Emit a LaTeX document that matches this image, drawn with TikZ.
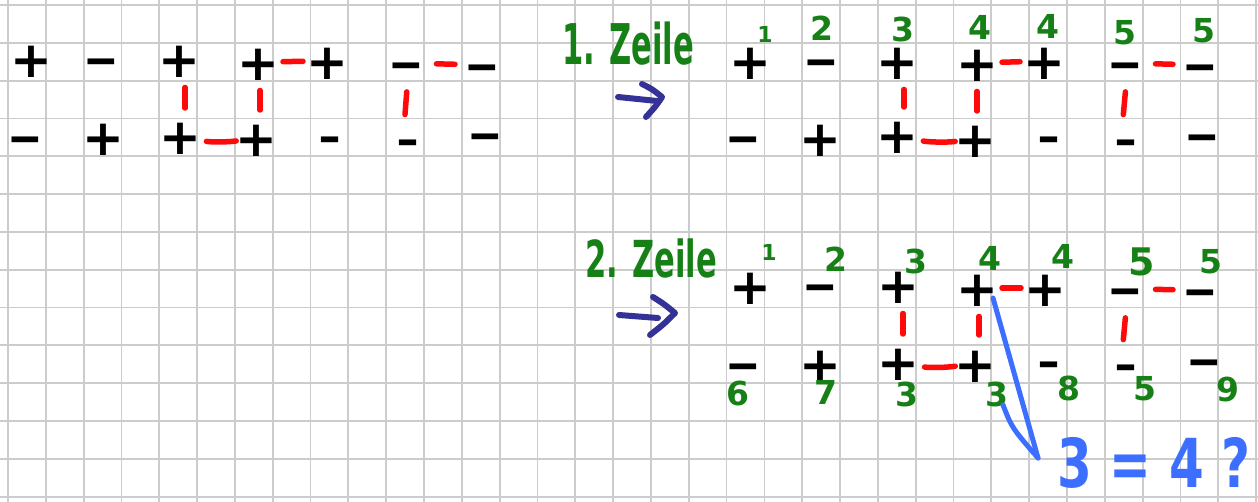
\documentclass[tikz,border=0pt]{standalone}
\usepackage{fontspec}
\usepackage{graphicx}
\newfontfamily\handfont{DejaVu Sans}
\definecolor{gridgray}{RGB}{204,204,204}
\definecolor{hred}{RGB}{255,10,10}
\definecolor{hgreen}{RGB}{22,128,22}
\definecolor{hdarkblue}{RGB}{52,50,150}
\definecolor{hblue}{RGB}{60,110,255}
\newcommand\MinusL{\scalebox{0.85}[1]{−}}
\newcommand\MinusS{\scalebox{0.55}[1]{−}}
\begin{document}
\begin{tikzpicture}[x=1pt,y=-1pt,
  gridline/.style={draw=gridgray, line width=1.8pt},
  sign/.style={font=\handfont\bfseries\fontsize{50}{50}\selectfont, inner xsep=0pt, inner ysep=-3pt, text height=38pt, text depth=0pt},
  msign/.style={sign, inner ysep=-14pt},
  num/.style={font=\handfont\bfseries\fontsize{33}{33}\selectfont, text=hgreen, inner sep=0pt},
  bignum/.style={font=\handfont\bfseries\fontsize{38}{38}\selectfont, text=hgreen, inner sep=0pt},
  smallnum/.style={font=\handfont\bfseries\fontsize{22}{22}\selectfont, text=hgreen, inner sep=0pt},
  label/.style={font=\handfont\bfseries\fontsize{34}{34}\selectfont, text=hgreen, inner sep=0pt},
  link/.style={draw=hred, line width=5.5pt, line cap=round},
  pplink/.style={link, shorten <=25pt, shorten >=24pt},
  mmlink/.style={link, shorten <=30.5pt, shorten >=27pt},
  vlink/.style={link, shorten <=28.5pt, shorten >=28pt},
  vmlink/.style={link, shorten <=29pt, shorten >=25.5pt},
  tlink/.style={link, shorten <=27pt, shorten >=20pt},
  darkpen/.style={draw=hdarkblue, line width=6pt, line cap=round, line join=round},
  bluepen/.style={draw=hblue, line width=5pt, line cap=round, line join=round}
]
\useasboundingbox (0,0) rectangle (1258,502);
\fill[white] (0,0) rectangle (1258,502);
\foreach \i in {0,...,33} { \draw[gridline] ({8+37.82*\i},0) -- ({8+37.82*\i},502); }
\foreach \j in {0,...,13} { \draw[gridline] (0,{5+37.82*\j}) -- (1258,{5+37.82*\j}); }

% ---------- left block ----------
\node[sign] (L1) at (31,59) {+};
\node[msign] (L2) at (101,59) {\MinusL};
\node[sign] (L3) at (179,59) {+};
\node[sign] (L4) at (258,62) {+};
\node[sign] (L5) at (327,61) {+};
\node[msign] (L6) at (406,63) {\MinusL};
\node[msign] (L7) at (482,65) {\MinusL};
\node[msign] (L8) at (25,137) {\MinusL};
\node[sign] (L9) at (103,137) {+};
\node[sign] (L10) at (180,136) {+};
\node[sign] (L11) at (256,138) {+};
\node[msign] (L12) at (330,137) {\MinusS};
\node[msign] (L13) at (408,140) {\MinusS};
\node[msign] (L14) at (485,134) {\MinusL};
\draw[pplink] (L4.center) -- (L5.center);
\draw[mmlink] (L6.center) -- (L7.center);
\draw[vlink] ([xshift=6]L3.center) -- ([xshift=5]L10.center);
\draw[vlink] ([xshift=2]L4.center) -- ([xshift=4]L11.center);
\draw[vmlink] ([xshift=3]L6.center) -- ([xshift=-5]L13.center);
\draw[tlink] (L10.center) to[bend right=10] (L11.center);

% ---------- right block, first line ----------
\node[label] (lab1) at (628,44) {\scalebox{0.9}[1.65]{1. Zeile}};
\draw[darkpen] (618,97) -- (657,101);
\draw[darkpen] (642,84) .. controls (652,89) .. (662,97) .. controls (656,106) .. (646,117);

\node[sign] (R1) at (750,61) {+};
\node[msign] (R2) at (821,60) {\MinusL};
\node[sign] (R3) at (897,61) {+};
\node[sign] (R4) at (977,63) {+};
\node[sign] (R5) at (1044,61) {+};
\node[msign] (R6) at (1125,63) {\MinusL};
\node[msign] (R7) at (1200,65) {\MinusL};
\node[msign] (R8) at (743,137) {\MinusL};
\node[sign] (R9) at (820,138) {+};
\node[sign] (R10) at (897,135) {+};
\node[sign] (R11) at (975,139) {+};
\node[msign] (R12) at (1049,137) {\MinusS};
\node[msign] (R13) at (1126,140) {\MinusS};
\node[msign] (R14) at (1202,135) {\MinusL};
\node[smallnum] (rn1) at (765,34) {1};
\node[num] (rn2) at (822,28) {2};
\node[num] (rn3) at (903,29) {3};
\node[num] (rn4) at (980,27) {4};
\node[num] (rn5) at (1048,26) {4};
\node[num] (rn6) at (1125,33) {5};
\node[num] (rn7) at (1204,31) {5};
\draw[pplink] (R4.center) -- (R5.center);
\draw[mmlink] (R6.center) -- (R7.center);
\draw[vlink] ([xshift=7]R3.center) -- ([xshift=7]R10.center);
\draw[vlink] ([xshift=0]R4.center) -- ([xshift=2]R11.center);
\draw[vmlink] ([xshift=3]R6.center) -- ([xshift=-5]R13.center);
\draw[tlink] (R10.center) to[bend right=10] (R11.center);

% ---------- right block, second line ----------
\node[label] (lab2) at (651,258) {\scalebox{0.9}[1.5]{2. Zeile}};
\draw[darkpen] (619,315) -- (658,318);
\draw[darkpen] (653,297) .. controls (664,304) .. (675,313) .. controls (664,324) .. (650,335);

\node[sign] (B1) at (750,286) {+};
\node[msign] (B2) at (820,285) {\MinusL};
\node[sign] (B3) at (898,285) {+};
\node[sign] (B4) at (977,288) {+};
\node[sign] (B5) at (1045,288) {+};
\node[msign] (B6) at (1125,289) {\MinusL};
\node[msign] (B7) at (1200,290) {\MinusL};
\node[msign] (B8) at (743,363) {\MinusL};
\node[sign] (B9) at (820,363) {+};
\node[sign] (B10) at (898,362) {+};
\node[sign] (B11) at (975,363) {+};
\node[msign] (B12) at (1049,362) {\MinusS};
\node[msign] (B13) at (1126,365) {\MinusS};
\node[msign] (B14) at (1204,360) {\MinusL};
\node[smallnum] (bn1) at (769,252) {1};
\node[num] (bn2) at (836,259) {2};
\node[num] (bn3) at (916,261) {3};
\node[num] (bn4) at (990,258) {4};
\node[num] (bn5) at (1063,256) {4};
\node[bignum] (bn6) at (1142,262) {5};
\node[num] (bn7) at (1211,262) {5};
\node[num] (bn8) at (738,394) {6};
\node[num] (bn9) at (826,392) {7};
\node[num] (bn10) at (907,394) {3};
\node[num] (bn11) at (997,394) {3};
\node[num] (bn12) at (1069,388) {8};
\node[num] (bn13) at (1145,389) {5};
\node[num] (bn14) at (1228,390) {9};
\draw[pplink] (B4.center) -- (B5.center);
\draw[mmlink] (B6.center) -- (B7.center);
\draw[vlink] ([xshift=5]B3.center) -- ([xshift=5]B10.center);
\draw[vlink] ([xshift=2]B4.center) -- ([xshift=4]B11.center);
\draw[vmlink] ([xshift=3]B6.center) -- ([xshift=-5]B13.center);
\draw[tlink] (B10.center) to[bend right=10] (B11.center);

% ---------- conclusion ----------
\node[font=\handfont\bfseries\fontsize{50}{50}\selectfont, text=hblue, inner sep=0pt] (Q) at (1154,463) {\scalebox{1}[1.35]{3 = 4 ?}};
\coordinate (tip) at (1038,458);
\coordinate (hs) at (1003,405);
\draw[bluepen] ([shift={(16,10)}]B4.center) -- (tip);
\draw[bluepen] (hs) .. controls (1012,428) .. (tip);
\end{tikzpicture}
\end{document}
